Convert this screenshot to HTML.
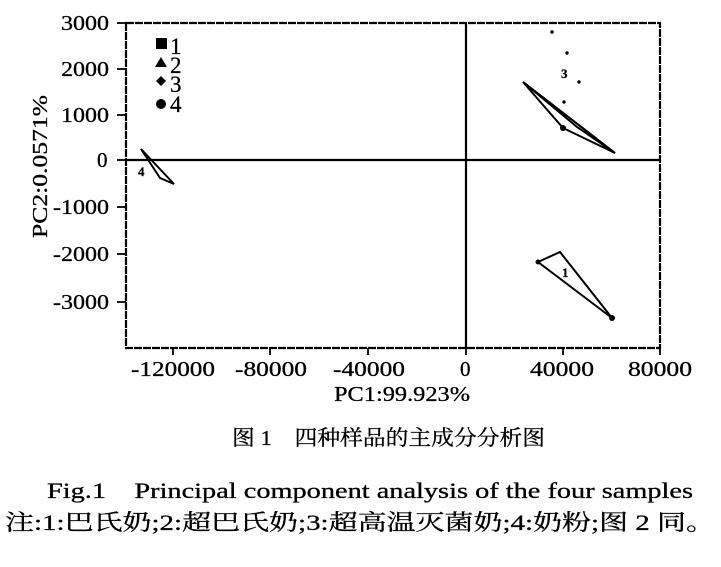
<!DOCTYPE html><html><head><style>body{margin:0;background:#fff}svg{display:block}text{font-family:"Liberation Serif","Noto Serif CJK SC",serif;fill:#000;stroke:#000;stroke-width:0.3}</style></head><body>
<svg width="721" height="567" xmlns="http://www.w3.org/2000/svg">
<g stroke="#000" fill="none">
<rect x="126" y="23" width="534" height="325" stroke-width="2.2" stroke-dasharray="8 1"/>
<line x1="126" y1="160" x2="660" y2="160" stroke-width="2.2"/>
<line x1="466" y1="23" x2="466" y2="348" stroke-width="2.2"/>
<g stroke-width="1.8">
<line x1="117" y1="23" x2="126" y2="23"/><line x1="117" y1="69" x2="126" y2="69"/><line x1="117" y1="115" x2="126" y2="115"/><line x1="117" y1="160" x2="126" y2="160"/><line x1="117" y1="207" x2="126" y2="207"/><line x1="117" y1="254" x2="126" y2="254"/><line x1="117" y1="302" x2="126" y2="302"/>
<line x1="173" y1="348" x2="173" y2="355"/><line x1="270" y1="348" x2="270" y2="355"/><line x1="368" y1="348" x2="368" y2="355"/><line x1="466" y1="348" x2="466" y2="355"/><line x1="563" y1="348" x2="563" y2="355"/><line x1="660" y1="348" x2="660" y2="355"/>
</g>
<g stroke-width="2">
<polygon points="523,82 615,153 563,128"/>
<polygon points="523,82 577,127 615,153"/>
<polygon points="538,262 560,252 612,318"/>
<polygon points="141,149 174,184 160,178"/>
</g>
</g>
<g fill="#000">
<rect x="156" y="38" width="11" height="11"/>
<polygon points="161,57 155,67 167,67"/>
<path d="M161,76 l5,5 -5,5 -5,-5z"/>
<circle cx="161" cy="104" r="5"/>
<circle cx="552" cy="32" r="1.7"/><circle cx="567" cy="53" r="1.7"/><circle cx="579" cy="82" r="1.7"/><circle cx="564" cy="102" r="1.7"/>
<circle cx="563" cy="128" r="3"/><circle cx="612" cy="318" r="3"/><circle cx="538" cy="262" r="2.5"/>
</g>
<g font-size="23">
<text x="170" y="54">1</text><text x="170" y="73">2</text><text x="170" y="92">3</text><text x="170" y="112">4</text>
</g>
<g font-size="13" font-weight="bold">
<text x="561" y="78">3</text><text x="562" y="277">1</text><text x="138" y="176">4</text>
</g>
<g font-size="21">
<text x="61" y="30" textLength="48" lengthAdjust="spacingAndGlyphs">3000</text>
<text x="61" y="76" textLength="48" lengthAdjust="spacingAndGlyphs">2000</text>
<text x="61" y="122" textLength="48" lengthAdjust="spacingAndGlyphs">1000</text>
<text x="97" y="167">0</text>
<text x="53" y="214" textLength="56" lengthAdjust="spacingAndGlyphs">-1000</text>
<text x="53" y="261" textLength="56" lengthAdjust="spacingAndGlyphs">-2000</text>
<text x="53" y="309" textLength="56" lengthAdjust="spacingAndGlyphs">-3000</text>
<text x="131" y="376" textLength="84" lengthAdjust="spacingAndGlyphs">-120000</text>
<text x="235" y="376" textLength="72" lengthAdjust="spacingAndGlyphs">-80000</text>
<text x="333" y="376" textLength="72" lengthAdjust="spacingAndGlyphs">-40000</text>
<text x="460" y="376">0</text>
<text x="530" y="376" textLength="64" lengthAdjust="spacingAndGlyphs">40000</text>
<text x="628" y="376" textLength="64" lengthAdjust="spacingAndGlyphs">80000</text>
<text x="334" y="401" textLength="136" lengthAdjust="spacingAndGlyphs">PC1:99.923%</text>
<text transform="translate(47,238) rotate(-90)" textLength="143" lengthAdjust="spacingAndGlyphs">PC2:0.0571%</text>
<text x="232" y="445" textLength="313" lengthAdjust="spacingAndGlyphs">图 1　四种样品的主成分分析图</text>
<text x="47" y="498" font-size="22" textLength="646" lengthAdjust="spacingAndGlyphs">Fig.1　Principal component analysis of the four samples</text>
<text x="5" y="530" font-size="22" textLength="710" lengthAdjust="spacingAndGlyphs">注:1:巴氏奶;2:超巴氏奶;3:超高温灭菌奶;4:奶粉;图 2 同。</text>
</g>
</svg></body></html>
